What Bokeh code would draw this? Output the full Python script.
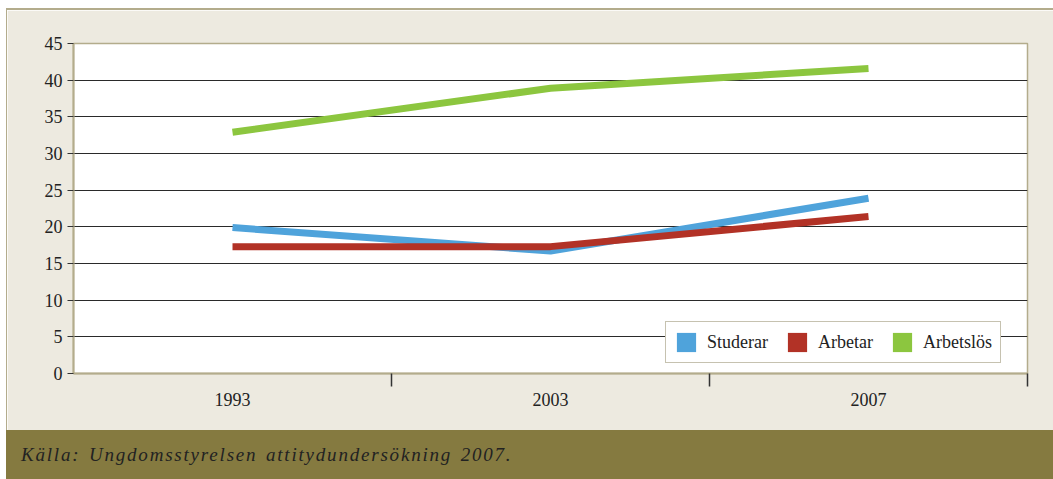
import math
from bokeh.plotting import figure
from bokeh.models import FixedTicker, Legend, LegendItem, Div, Range1d, Spacer
from bokeh.layouts import column, row
from bokeh.embed import file_html
from bokeh.resources import INLINE

years = ["1993", "2003", "2007"]
studerar = [19.9, 16.7, 23.9]
arbetar = [17.3, 17.3, 21.4]
arbetslos = [32.9, 38.9, 41.6]
series_names = ["Studerar", "Arbetar", "Arbetslös"]
y_ticks = [0, 5, 10, 15, 20, 25, 30, 35, 40, 45]
source_text = "Källa: Ungdomsstyrelsen attitydundersökning 2007."

colors = ["#4FA3DB", "#B23226", "#8CC63F"]
beige = "#EDEAE0"
tan = "#B3AC8C"
olive = "#857A40"

xs = list(range(len(years)))

p = figure(width=1046, height=420, output_backend="svg", toolbar_location=None,
           x_range=Range1d(-0.5, len(years) - 0.5), y_range=Range1d(0, 45),
           min_border_left=66, min_border_right=26, min_border_top=33, min_border_bottom=57)
p.background_fill_color = "white"
p.border_fill_color = beige
p.outline_line_color = tan
p.outline_line_width = 1.5

for vals, c in zip([studerar, arbetar, arbetslos], colors):
    p.line(xs, vals, line_color=c, line_width=7)

# legend proxies (square patches)
items = []
for name, c in zip(series_names, colors):
    r = p.quad(left=[math.nan], right=[math.nan], top=[math.nan], bottom=[math.nan],
               fill_color=c, line_color=None)
    items.append(LegendItem(label=name, renderers=[r]))

legend = Legend(items=items, orientation="horizontal", location=(592, 10))
legend.label_text_font = "Liberation Serif"
legend.label_text_font_size = "18px"
legend.label_text_color = "#222222"
legend.glyph_width = 24
legend.glyph_height = 24
legend.label_standoff = 9
legend.spacing = 17
legend.padding = 8
legend.margin = 0
legend.border_line_color = "#8E8562"
legend.border_line_width = 1.5
legend.background_fill_color = "white"
legend.background_fill_alpha = 1
p.add_layout(legend, "center")

# Y axis
p.yaxis.ticker = FixedTicker(ticks=y_ticks)
p.yaxis.axis_line_color = tan
p.yaxis.axis_line_width = 2
p.yaxis.major_tick_line_color = "#333333"
p.yaxis.major_tick_out = 6
p.yaxis.major_tick_in = 0
p.yaxis.minor_tick_line_color = None
p.yaxis.major_label_text_font = "Liberation Serif"
p.yaxis.major_label_text_font_size = "18px"
p.yaxis.major_label_text_color = "#222222"
p.yaxis.major_label_standoff = 5

# X axis: labels at category centres, ticks at boundaries
p.xaxis.ticker = FixedTicker(ticks=xs, minor_ticks=[i + 0.5 for i in xs])
p.xaxis.major_label_overrides = {i: y for i, y in zip(xs, years)}
p.xaxis.axis_line_color = tan
p.xaxis.axis_line_width = 2
p.xaxis.major_tick_line_color = None
p.xaxis.minor_tick_line_color = "#333333"
p.xaxis.minor_tick_line_width = 1.5
p.xaxis.minor_tick_out = 13
p.xaxis.minor_tick_in = 0
p.xaxis.major_label_text_font = "Liberation Serif"
p.xaxis.major_label_text_font_size = "18px"
p.xaxis.major_label_text_color = "#222222"
p.xaxis.major_label_standoff = 6

p.xgrid.visible = False
p.ygrid.ticker = FixedTicker(ticks=[t for t in y_ticks if 0 < t < 45])
p.ygrid.grid_line_color = "#2A2A2A"
p.ygrid.grid_line_width = 1

source_div = Div(text=f'<div style="font-family:\'Liberation Serif\';font-style:italic;font-size:19px;'
                      f'letter-spacing:1.8px;word-spacing:2px;color:#222;padding-left:15px;line-height:49px;'
                      f'white-space:nowrap;">{source_text}</div>',
                 width=1047, height=49, margin=0, styles={"background-color": olive})

top_border = Div(text="", width=1047, height=2, margin=0, styles={"background-color": tan})
left_border = Div(text="", width=1, height=420, margin=0, styles={"background-color": tan})

layout = row(Spacer(width=6, height=479),
             column(Spacer(width=1047, height=8), top_border, row(left_border, p, spacing=0),
                    source_div, spacing=0),
             spacing=0)

open("out.html", "w").write(file_html(layout, INLINE))
